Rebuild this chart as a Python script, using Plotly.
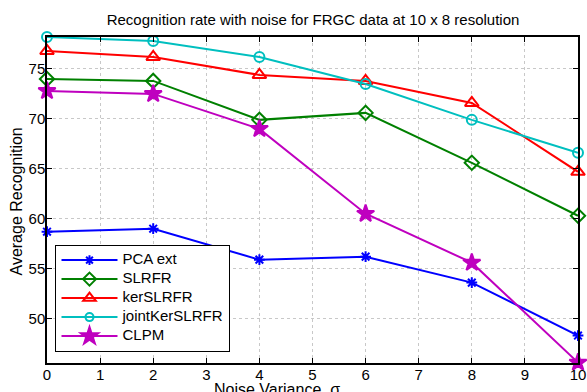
import plotly.graph_objects as go

noise = [0, 2, 4, 6, 8, 10]

pca_ext = [58.7, 59.0, 55.9, 56.2, 53.6, 48.3]
slrfr = [74.0, 73.8, 69.9, 70.6, 65.6, 60.3]
ker_slrfr = [76.8, 76.2, 74.4, 73.8, 71.6, 64.7]
joint_ker_slrfr = [78.2, 77.8, 76.2, 73.5, 69.9, 66.6]
clpm = [72.8, 72.5, 69.0, 60.5, 55.6, 45.6]

# name, values, colour, marker symbol, marker size on the plot, marker size in legend
series = [
    ("PCA ext", pca_ext, "#0000FF", "asterisk-open", 9, 8),
    ("SLRFR", slrfr, "#008000", "diamond-open", 11, 10),
    ("kerSLRFR", ker_slrfr, "#FF0000", "triangle-up-open", 12, 11),
    ("jointKerSLRFR", joint_ker_slrfr, "#00BFBF", "circle-open", 10, 8),
    ("CLPM", clpm, "#BF00BF", "star", 13, 13),
]

fig = go.Figure()
for name, vals, color, symbol, size, lsize in series:
    fig.add_trace(go.Scatter(
        x=noise, y=vals, name=name, mode="lines+markers", showlegend=False,
        line=dict(color=color, width=2),
        marker=dict(symbol=symbol, size=size, color=color,
                    line=dict(color=color, width=2)),
        cliponaxis=False,
    ))
    # legend entry: compact rows, larger label text
    fig.add_trace(go.Scatter(
        x=[None], y=[None], name=f'<span style="font-size:15px">{name}</span>',
        mode="lines+markers",
        line=dict(color=color, width=2),
        marker=dict(symbol=symbol, size=lsize, color=color,
                    line=dict(color=color, width=2)),
    ))

font = "Liberation Sans, Arial, sans-serif"
axis_common = dict(
    showline=True, linecolor="black", linewidth=1.5, mirror="ticks",
    ticks="inside", ticklen=5, tickcolor="black",
    showgrid=True, gridcolor="#c8c8c8", griddash="dot", gridwidth=1,
    zeroline=False, tickfont=dict(family=font, size=15, color="black"),
    automargin=False, ticklabelstandoff=-3,
)

fig.update_layout(
    width=587, height=392,
    margin=dict(l=47, r=9, t=37, b=29),
    paper_bgcolor="white", plot_bgcolor="white",
    title=dict(text="Recognition rate with noise for FRGC data at 10 x 8 resolution",
               x=(104 + 522) / 2 / 587, xanchor="center", y=1 - 20 / 392, yanchor="middle",
               font=dict(family=font, size=15, color="black")),
    xaxis=dict(range=[0, 10], dtick=1, **axis_common),
    yaxis=dict(range=[45.55, 78.2], tickvals=[50, 55, 60, 65, 70, 75], **axis_common),
    legend=dict(x=0.016, y=0.035, xanchor="left", yanchor="bottom",
                bgcolor="white", bordercolor="black", borderwidth=1,
                font=dict(family=font, size=10.5, color="black"),
                itemwidth=56, tracegroupgap=0),
    showlegend=True,
    annotations=[
        dict(text="Noise Variance ,σ", xref="paper", yref="paper",
             x=(277 - 47) / 531, y=-(389 - 363) / 326, xanchor="center", yanchor="middle",
             showarrow=False, font=dict(family=font, size=16, color="black")),
        dict(text="Average Recognition", xref="paper", yref="paper",
             x=-(47 - 15.5) / 531, y=(363 - 202) / 326, xanchor="center", yanchor="middle",
             textangle=-90, showarrow=False, font=dict(family=font, size=16, color="black")),
    ],
)

fig.write_html("out.html")
